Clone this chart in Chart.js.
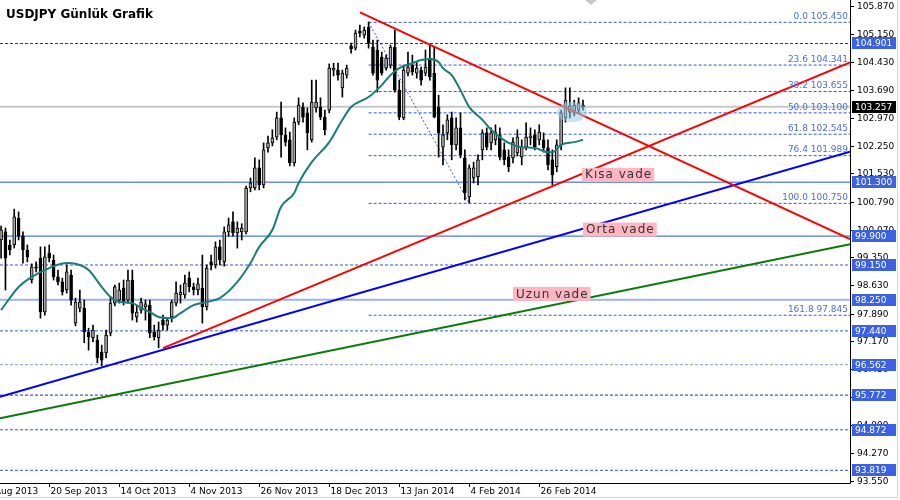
<!DOCTYPE html>
<html>
<head>
<meta charset="utf-8">
<script src="https://cdn.jsdelivr.net/npm/chart.js@4.4.1/dist/chart.umd.min.js"></script>
<style>
  html, body { margin: 0; padding: 0; background: #fff; }
  canvas { display: block; }
</style>
</head>
<body>
<canvas id="chart" width="900" height="500"></canvas>
<script>
// daily USDJPY bars, index 0 = 5 Sep 2013
const candleOpen = [
  99.80,100.01,99.67,99.67,100.37,99.90,99.54,98.76,99.10,99.33,
  97.93,99.46,99.28,98.84,98.71,98.50,98.89,97.64,98.03,98.03,
  97.41,97.26,97.20,96.89,96.87,97.38,98.16,98.24,98.55,98.24,
  98.76,97.80,97.98,98.06,98.11,97.41,97.26,97.72,97.59,97.80,
  98.16,98.37,98.37,98.81,98.58,98.50,98.55,98.06,99.23,99.15,
  99.62,99.23,100.01,100.27,99.98,100.01,100.01,101.15,101.15,101.67,
  101.23,102.19,102.32,102.47,102.97,102.53,102.40,101.80,102.86,103.25,
  103.10,102.40,103.23,103.25,102.99,103.17,104.21,104.21,103.75,104.08,
  104.84,104.78,105.22,105.12,105.33,104.81,104.73,104.55,104.26,104.34,
  104.81,103.69,102.97,104.13,104.34,104.13,104.21,104.13,104.52,104.13,
  103.25,102.21,102.58,102.97,102.27,102.71,101.93,100.92,101.41,101.44,
  102.14,102.58,102.32,102.40,102.53,102.14,101.95,101.93,102.06,101.95,
  102.21,102.45,102.53,102.40,102.40,102.19,101.88,101.70,102.27,102.97,
  103.12,103.10,103.17,103.30
];
const candleHigh = [
  100.16,100.11,99.80,100.60,100.53,100.01,99.67,99.18,99.23,99.62,
  99.62,99.67,99.41,99.02,98.81,99.15,99.02,98.29,98.50,98.24,
  97.51,97.59,97.33,97.07,97.46,98.32,98.63,98.68,98.76,99.02,
  99.02,98.11,98.29,98.24,98.24,97.59,97.67,97.85,97.77,98.24,
  98.71,98.63,98.89,98.97,98.68,98.81,99.41,99.15,99.41,99.75,
  99.80,100.14,100.37,100.53,100.27,100.22,101.20,101.41,101.93,101.88,
  102.32,102.50,102.66,103.12,103.38,102.71,102.60,102.97,103.49,103.36,
  103.23,103.95,103.95,103.49,103.17,104.37,104.39,104.39,104.21,104.34,
  104.91,105.25,105.38,105.33,105.46,104.99,104.99,104.68,104.60,104.86,
  105.25,103.95,104.34,104.68,104.60,104.42,104.29,104.73,104.86,104.81,
  103.56,102.79,103.05,103.12,102.97,103.10,102.14,101.75,101.82,102.01,
  102.66,102.71,102.71,102.79,102.71,102.32,102.14,102.45,102.66,102.40,
  102.84,102.71,102.66,102.79,102.58,102.40,102.14,102.40,103.17,103.75,
  103.75,103.43,103.49,103.43
];
const candleLow = [
  99.33,98.50,99.41,99.59,99.80,99.20,99.23,98.68,98.97,97.77,
  97.85,99.23,98.76,98.63,98.37,98.42,98.11,97.57,97.93,97.13,
  96.94,97.15,96.61,96.53,96.74,97.31,98.09,98.16,98.11,98.16,
  97.72,97.67,97.90,97.72,97.26,97.20,97.00,97.46,97.46,97.67,
  98.09,98.16,98.29,98.45,98.37,98.37,97.64,97.98,99.02,99.07,
  99.15,99.12,99.90,99.90,99.59,99.80,99.96,101.05,101.10,101.10,
  101.15,102.08,102.24,102.40,101.95,102.24,101.72,101.72,102.79,102.86,
  102.14,102.34,103.12,102.92,102.53,103.10,104.06,103.95,103.51,104.00,
  104.65,104.73,105.07,105.04,104.78,104.08,103.64,104.08,104.21,104.26,
  103.64,102.92,102.92,104.06,104.08,104.00,103.82,104.06,103.95,102.97,
  101.95,101.75,102.40,101.88,102.14,101.93,100.84,100.76,101.28,101.23,
  101.88,102.14,102.14,102.27,101.88,101.75,101.57,101.80,101.98,101.75,
  102.14,102.27,102.14,102.27,102.08,101.62,101.23,101.57,102.14,102.86,
  102.97,103.02,103.12,103.17
];
const candleClose = [
  100.06,99.33,99.54,100.40,99.90,99.54,99.36,99.10,99.07,97.93,
  99.36,99.33,98.84,98.71,98.45,98.97,98.24,98.19,98.19,97.41,
  97.28,97.46,96.74,96.68,97.33,98.16,98.58,98.50,98.19,98.76,
  97.90,97.93,98.19,98.14,97.38,97.28,97.46,97.59,97.72,98.19,
  98.42,98.45,98.68,98.58,98.50,98.66,98.06,99.07,99.15,99.62,
  99.28,100.01,100.19,99.98,100.11,100.11,101.15,101.28,101.67,101.23,
  102.14,102.32,102.45,102.97,102.53,102.34,101.80,102.86,103.30,102.99,
  102.58,103.38,103.38,102.99,102.66,104.26,104.26,104.08,104.13,104.26,
  104.76,105.17,105.17,105.25,104.91,104.13,103.95,104.13,104.52,104.81,
  103.69,102.99,104.21,104.29,104.16,104.26,103.95,104.29,104.03,102.99,
  102.58,102.53,102.92,102.27,102.71,102.01,101.02,101.67,101.67,101.88,
  102.58,102.21,102.58,102.60,101.95,101.88,101.70,102.34,102.47,102.21,
  102.47,102.50,102.21,102.60,102.19,101.75,101.49,102.27,103.10,103.43,
  103.28,103.30,103.36,103.25
];

// moving average (bar index, price)
const maIdx = [0,4,7,11,15,17,20,23,25,27,30,32,34,36,39,41,44,47,50,54,57,59,62,64,67,68,71,75,78,80,
  84,87,89,91,94,96,98,100,101,103,105,107,110,112,114,116,119,122,125,126,128,131,133];
const maVal = [97.98,98.58,98.84,99.07,99.20,99.18,99.02,98.58,98.32,98.19,98.16,98.03,97.93,97.80,97.77,97.90,
  98.11,98.19,98.29,98.71,99.20,99.62,100.06,100.66,101.02,101.28,101.82,102.34,102.92,103.25,
  103.51,103.82,104.08,104.26,104.39,104.47,104.50,104.42,104.26,104.08,103.69,103.25,102.92,102.66,
  102.47,102.32,102.21,102.19,102.08,102.08,102.27,102.34,102.40];

// x range of the window, in bars
const xMin = -0.25;
const xMax = 194.03;
const yMin = 93.49;
const yMax = 106.03;

// trend lines: [startIdx, startPrice, endIdx, endPrice]
const redDown = [82.03, 105.71, 194.03, 99.82];
const redUp = [37.0, 96.99, 194.03, 104.41];
const blueUp = [-0.25, 95.73, 194.03, 102.09];
const greenUp = [-0.25, 95.17, 194.03, 99.69];

// horizontal levels
const solidLevels = [101.300, 99.900];
const lightLevel = 98.250;
const dashedLevels = [104.901, 99.150, 97.440, 96.562, 95.772, 94.872, 93.819];
const currentPrice = 103.257;

// fibonacci retracement from the 2 Jan high to the 4 Feb low
const fibStart = 84;
const fibLowIdx = 107;
const fibRatios = ["0.0", "23.6", "38.2", "50.0", "61.8", "76.4", "100.0", "161.8"];
const fibLevels = [105.450, 104.341, 103.655, 103.100, 102.545, 101.989, 100.750, 97.845];

// text notes
const noteTexts = ["Kısa vade", "Orta vade", "Uzun vade"];
const noteIdx = [132.8, 133.0, 117.0];
const notePrice = [101.49, 100.07, 98.40];

// highlight around last bars
const markIdx = 130.5;
const markPrice = 103.12;

// axes
const yTickValues = [105.870, 105.150, 104.430, 103.690, 102.970, 102.250, 101.530, 100.790, 100.070,
  99.350, 98.630, 97.890, 97.170, 96.450, 95.710, 94.990, 94.270, 93.550];
const boxLevels = [104.901, 101.300, 99.900, 99.150, 98.250, 97.440, 96.562, 95.772, 94.872, 93.819];
const dateTickIdx = [-5, 11, 27, 43, 59, 75, 91, 107, 123];
const dateTickLabels = ["29 Aug 2013", "20 Sep 2013", "14 Oct 2013", "4 Nov 2013", "26 Nov 2013",
  "18 Dec 2013", "13 Jan 2014", "4 Feb 2014", "26 Feb 2014"];

const FONT = "'DejaVu Sans', Verdana, sans-serif";

function seg(line) {
  return [{ x: line[0], y: line[1] }, { x: line[2], y: line[3] }];
}
function hline(level, from) {
  return [{ x: from, y: level }, { x: xMax, y: level }];
}
function lineDs(data, color, width, dash, order) {
  return {
    type: "line",
    data,
    borderColor: color,
    borderWidth: width,
    borderDash: dash || [],
    pointRadius: 0,
    fill: false,
    order,
  };
}

const datasets = [];

// levels behind everything
datasets.push(lineDs(hline(currentPrice, xMin), "#c8c8c8", 2, null, 20));
solidLevels.forEach(l => datasets.push(lineDs(hline(l, xMin), "#2255dd", 1, null, 19)));
datasets.push(lineDs(hline(lightLevel, xMin), "#9db2ef", 2, null, 19));
dashedLevels.forEach(l => {
  const c = l === 96.562 ? "#7f9ae8" : l === 95.772 ? "#1c2eaa" : l === 104.901 ? "#1030c8" : "#3358dd";
  datasets.push(lineDs(hline(l, xMin), c, 1, [3, 2], 18));
});
fibLevels.forEach(l => datasets.push(lineDs(hline(l, fibStart), "#3358dd", 1, [3, 2], 18)));
datasets.push(lineDs([{ x: fibStart, y: fibLevels[0] }, { x: fibLowIdx, y: fibLevels[6] }], "#3358dd", 1, [2, 2], 18));

// candles
const isBull = candleClose.map((c, i) => c >= candleOpen[i]);
datasets.push({
  type: "bar",
  data: candleLow.map((l, i) => ({ x: i, y: [l, candleHigh[i]] })),
  backgroundColor: "#000",
  barThickness: 1,
  grouped: false,
  order: 11,
});
datasets.push({
  type: "bar",
  data: candleOpen.map((o, i) => ({ x: i, y: [o, candleClose[i]] })),
  backgroundColor: isBull.map(b => b ? "#a8a8a8" : "#000"),
  borderColor: "#000",
  borderWidth: 1,
  borderSkipped: false,
  barThickness: 3,
  minBarLength: 1,
  grouped: false,
  order: 10,
});

// moving average and trend lines on top
datasets.push({
  type: "line",
  data: maIdx.map((x, i) => ({ x, y: maVal[i] })),
  borderColor: "#1b7d78",
  borderWidth: 2,
  pointRadius: 0,
  cubicInterpolationMode: "monotone",
  fill: false,
  order: 3,
});
datasets.push(lineDs(seg(greenUp), "#0a7a0a", 2, null, 2));
datasets.push(lineDs(seg(blueUp), "#0000ff", 2, null, 2));
datasets.push(lineDs(seg(redUp), "#ff0000", 2, null, 1));
datasets.push(lineDs(seg(redDown), "#ff0000", 2, null, 1));

const overlay = {
  id: "overlay",
  afterDatasetsDraw(chart) {
    const { ctx, scales: { x, y } } = chart;
    ctx.save();
    ctx.fillStyle = "rgba(150, 205, 230, 0.55)";
    ctx.beginPath();
    ctx.ellipse(x.getPixelForValue(markIdx), y.getPixelForValue(markPrice), 15, 10, 0, 0, Math.PI * 2);
    ctx.fill();
    ctx.restore();
  },
  afterDraw(chart) {
    const { ctx, chartArea: a, scales: { x, y } } = chart;
    ctx.save();

    // fib labels
    ctx.font = "9px " + FONT;
    ctx.fillStyle = "#4a6ee0";
    ctx.textAlign = "right";
    ctx.textBaseline = "bottom";
    fibLevels.forEach((l, i) => {
      ctx.fillText(fibRatios[i] + " " + l.toFixed(3), a.right - 2, y.getPixelForValue(l) - 1);
    });

    // notes
    ctx.font = "12px " + FONT;
    ctx.letterSpacing = "1px";
    ctx.textAlign = "left";
    ctx.textBaseline = "middle";
    noteTexts.forEach((t, i) => {
      const px = x.getPixelForValue(noteIdx[i]);
      const py = y.getPixelForValue(notePrice[i]);
      const w = ctx.measureText(t).width + 5;
      ctx.fillStyle = "#ffb6c1";
      ctx.fillRect(px, py - 7, w, 14);
      ctx.fillStyle = "#333";
      ctx.fillText(t, px + 3, py + 0.5);
    });
    ctx.letterSpacing = "0px";

    // title
    ctx.font = "bold 12px " + FONT;
    ctx.fillStyle = "#000";
    ctx.textBaseline = "top";
    ctx.fillText("USDJPY Günlük Grafik", 6, 9);

    // axis frame
    ctx.strokeStyle = "#000";
    ctx.lineWidth = 1;
    ctx.beginPath();
    ctx.moveTo(a.right + 0.5, a.top);
    ctx.lineTo(a.right + 0.5, a.bottom + 0.5);
    ctx.lineTo(a.left, a.bottom + 0.5);
    ctx.stroke();

    // shift marker
    ctx.fillStyle = "#c8c8c8";
    ctx.beginPath();
    ctx.moveTo(585, 0);
    ctx.lineTo(597, 0);
    ctx.lineTo(591, 5);
    ctx.closePath();
    ctx.fill();

    // price ticks
    ctx.font = "9px " + FONT;
    ctx.textBaseline = "middle";
    ctx.textAlign = "left";
    yTickValues.forEach(v => {
      const py = Math.round(y.getPixelForValue(v)) + 0.5;
      ctx.strokeStyle = "#000";
      ctx.beginPath();
      ctx.moveTo(a.right + 1, py);
      ctx.lineTo(a.right + 4, py);
      ctx.stroke();
      ctx.fillStyle = "#000";
      ctx.fillText(v.toFixed(3), a.right + 7, py);
    });
    boxLevels.forEach(v => {
      const py = Math.round(y.getPixelForValue(v));
      ctx.fillStyle = "#3a62e2";
      ctx.fillRect(a.right + 2, py - 6, 44, 12);
      ctx.fillStyle = "#fff";
      ctx.fillText(v.toFixed(3), a.right + 5, py + 0.5);
    });
    const cp = Math.round(y.getPixelForValue(currentPrice));
    ctx.fillStyle = "#000";
    ctx.fillRect(a.right + 2, cp - 6, 44, 12);
    ctx.fillStyle = "#fff";
    ctx.fillText(currentPrice.toFixed(3), a.right + 5, cp + 0.5);

    // date ticks
    ctx.fillStyle = "#000";
    ctx.strokeStyle = "#000";
    ctx.textBaseline = "top";
    dateTickIdx.forEach((d, i) => {
      const px = Math.round(x.getPixelForValue(d)) + 0.5;
      ctx.beginPath();
      ctx.moveTo(px, a.bottom + 1);
      ctx.lineTo(px, a.bottom + 4);
      ctx.stroke();
      ctx.fillText(dateTickLabels[i], px + 1, a.bottom + 4);
    });

    // outer frame
    ctx.strokeStyle = "#d4d4d4";
    ctx.beginPath();
    ctx.moveTo(897.5, 0);
    ctx.lineTo(897.5, 497.5);
    ctx.lineTo(0, 497.5);
    ctx.stroke();
    ctx.restore();
  },
};

new Chart(document.getElementById("chart"), {
  type: "line",
  data: { datasets },
  options: {
    responsive: false,
    animation: false,
    events: [],
    layout: { padding: { left: 0, top: 0, right: 50, bottom: 17 } },
    plugins: { legend: { display: false }, tooltip: { enabled: false } },
    scales: {
      x: { type: "linear", min: xMin, max: xMax, offset: false, display: false },
      y: { type: "linear", min: yMin, max: yMax, display: false },
    },
  },
  plugins: [overlay],
});
</script>
</body>
</html>
